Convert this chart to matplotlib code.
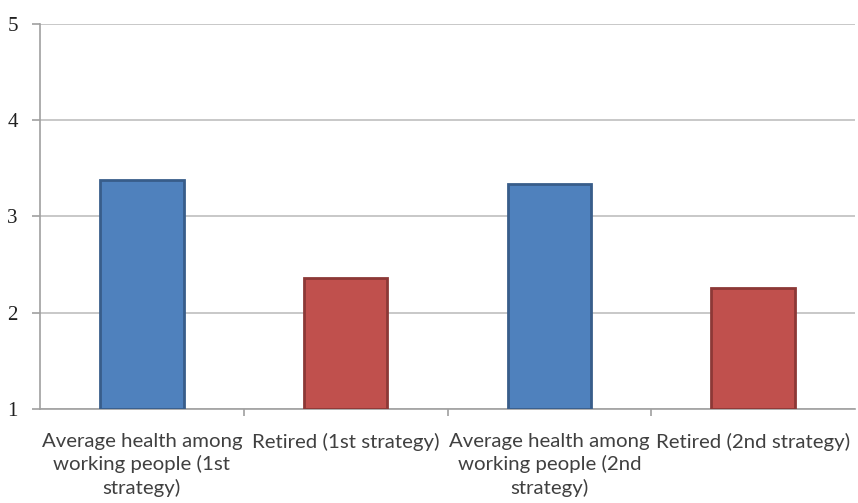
import matplotlib
matplotlib.use("Agg")
import matplotlib.pyplot as plt
import numpy as np

categories = ["Average health among\nworking people (1st\nstrategy)",
              "Retired (1st strategy)",
              "Average health among\nworking people (2nd\nstrategy)",
              "Retired (2nd strategy)"]
values = [3.38, 2.36, 3.34, 2.26]
colors = ["#4F81BD", "#C0504D", "#4F81BD", "#C0504D"]
edges = ["#385D8A", "#8C3836", "#385D8A", "#8C3836"]
yticks = [1, 2, 3, 4, 5]

fig = plt.figure(figsize=(8.58, 5.03), dpi=100)
ax = fig.add_axes([40/858, 94/503, 815/858, 385/503])

x = np.arange(len(categories))
ax.bar(x, np.array(values) - 1, bottom=1, width=0.41, color=colors,
       edgecolor=edges, linewidth=2, zorder=3)

ax.set_xlim(-0.5, len(categories) - 0.5)
ax.set_ylim(1, 5)
ax.set_yticks(yticks)
ax.set_yticklabels([str(t) for t in yticks], fontfamily="Liberation Serif", fontsize=15,
                   color="#202020")
ax.yaxis.grid(True, color="#BFBFBF", linewidth=1.2, zorder=0)

ax.set_xticks(x)
ax.set_xticklabels(categories, fontfamily="Lato", fontsize=14.7, color="#404040",
                   linespacing=1.38)
ax.tick_params(axis="x", length=0, pad=17)
ax.set_xticks(np.arange(0.5, len(categories) - 0.5, 1), minor=True)
ax.tick_params(axis="x", which="minor", length=5, color="#A0A0A0", width=1.2)
ax.tick_params(axis="y", length=6, color="#A0A0A0", width=1.2, pad=10)

for s in ["top", "right"]:
    ax.spines[s].set_visible(False)
for s in ["left", "bottom"]:
    ax.spines[s].set_color("#A0A0A0")
    ax.spines[s].set_linewidth(1.2)

fig.savefig("out.png", dpi=100)
